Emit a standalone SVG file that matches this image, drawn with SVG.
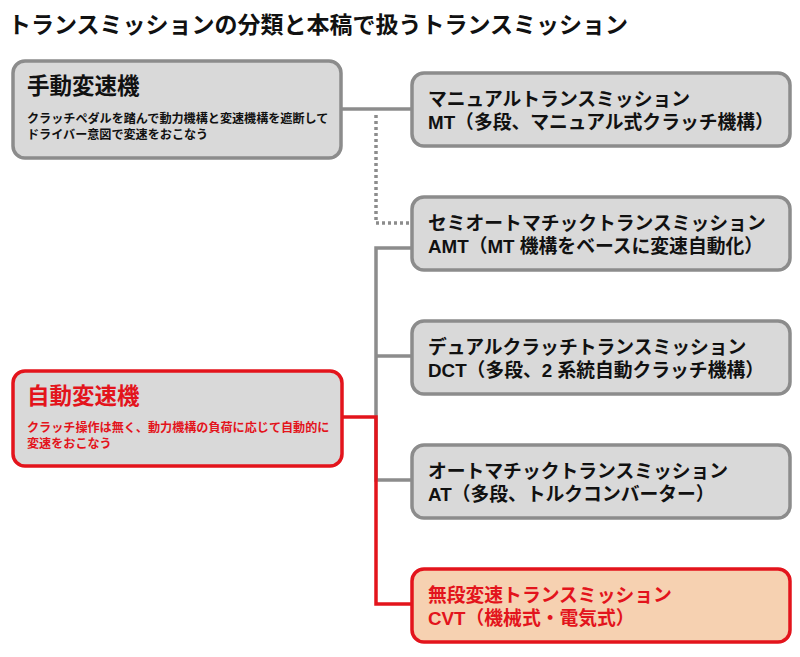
<svg xmlns="http://www.w3.org/2000/svg" width="800" height="657" viewBox="0 0 800 657">
<style>
text{font-family:"Liberation Sans","Noto Sans CJK JP",sans-serif;font-weight:bold;fill:#111}
.box{fill:#d9d9d9;stroke:#8c8c8c;stroke-width:3.5}
.rbox{fill:#d9d9d9;stroke:#e3141c;stroke-width:3.5}
.cbox{fill:#f6d1b1;stroke:#e3141c;stroke-width:3.5}
.h0{font-size:23px}
.h1{font-size:22.5px}
.sub{font-size:12.1px}
.item{font-size:18.8px}
.red{fill:#e3141c}
.g{stroke:#8c8c8c;stroke-width:3.5;fill:none}
.r{stroke:#e3141c;stroke-width:3.5;fill:none}
.d{stroke:#8c8c8c;stroke-width:3.5;fill:none;stroke-dasharray:3 3}
</style>
<text x="8" y="33" class="h0">トランスミッションの分類と本稿で扱うトランスミッション</text>
<g id="connectors">
<path class="g" d="M341 109H412"/>
<path class="d" d="M376 115V223H412"/>
<path class="g" d="M412 248H376V480H412M376 356H412"/>
<path class="r" d="M342 417H376V604H412"/>
</g>
<g id="manual">
<rect class="box" x="13" y="61" width="328" height="97" rx="12"/>
<text x="27" y="94" class="h1">手動変速機</text>
<text x="27" y="123" class="sub">クラッチペダルを踏んで動力機構と変速機構を遮断して</text>
<text x="27" y="139" class="sub">ドライバー意図で変速をおこなう</text>
</g>
<g id="auto">
<rect class="rbox" x="13" y="371" width="329" height="95" rx="12"/>
<text x="27" y="404" class="h1 red">自動変速機</text>
<text x="27" y="432" class="sub red">クラッチ操作は無く、動力機構の負荷に応じて自動的に</text>
<text x="27" y="448" class="sub red">変速をおこなう</text>
</g>
<g id="mt">
<rect class="box" x="412" y="73" width="378" height="73" rx="12"/>
<text x="428" y="106" class="item">マニュアルトランスミッション</text>
<text x="428" y="129" class="item">MT（多段、マニュアル式クラッチ機構）</text>
</g>
<g id="amt">
<rect class="box" x="412" y="197" width="378" height="73" rx="12"/>
<text x="428" y="230" class="item">セミオートマチックトランスミッション</text>
<text x="428" y="253" class="item">AMT（MT 機構をベースに変速自動化）</text>
</g>
<g id="dct">
<rect class="box" x="412" y="321" width="378" height="73" rx="12"/>
<text x="428" y="354" class="item">デュアルクラッチトランスミッション</text>
<text x="428" y="377" class="item">DCT（多段、2 系統自動クラッチ機構）</text>
</g>
<g id="at">
<rect class="box" x="412" y="445" width="378" height="73" rx="12"/>
<text x="428" y="478" class="item">オートマチックトランスミッション</text>
<text x="428" y="501" class="item">AT（多段、トルクコンバーター）</text>
</g>
<g id="cvt">
<rect class="cbox" x="412" y="569" width="378" height="73" rx="12"/>
<text x="428" y="602" class="item red">無段変速トランスミッション</text>
<text x="428" y="625" class="item red">CVT（機械式・電気式）</text>
</g>
</svg>
